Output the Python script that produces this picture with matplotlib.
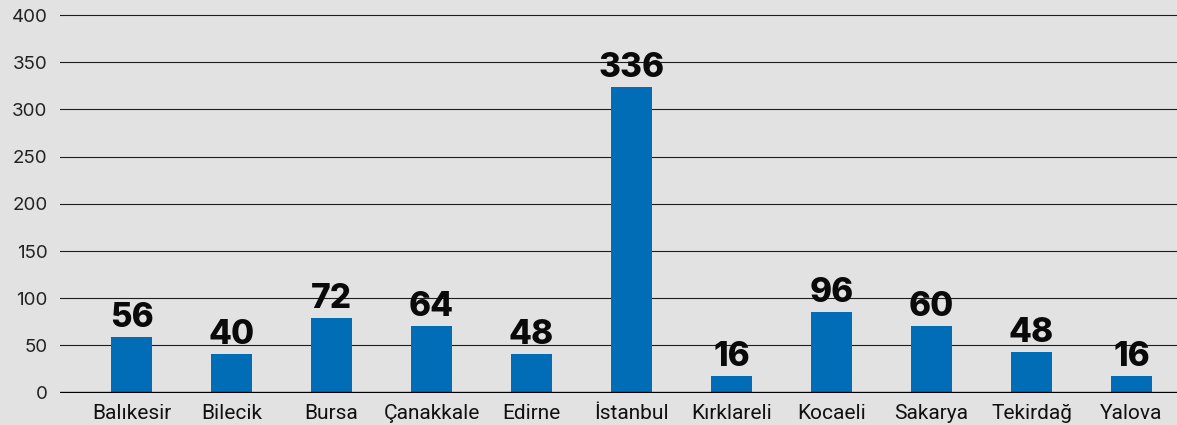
import matplotlib.pyplot as plt
import numpy as np

# data
provinces = ["Balıkesir", "Bilecik", "Bursa", "Çanakkale", "Edirne", "İstanbul",
             "Kırklareli", "Kocaeli", "Sakarya", "Tekirdağ", "Yalova"]
bar_heights = [59, 41, 79, 70.5, 41, 324, 17.5, 85.5, 70.5, 43, 17.5]
value_labels = ["56", "40", "72", "64", "48", "336", "16", "96", "60", "48", "16"]
yticks = [0, 50, 100, 150, 200, 250, 300, 350, 400]

bg = "#e2e2e2"
bar_color = "#006db6"

fig = plt.figure(figsize=(11.77, 4.25), dpi=100, facecolor=bg)
ax = fig.add_axes([0.051, 0.076, 0.949, 0.8998])
ax.set_facecolor(bg)

x = np.arange(len(provinces))
ax.bar(x, bar_heights, width=0.41, color=bar_color, zorder=3)

for xi, h, lab in zip(x, bar_heights, value_labels):
    ax.annotate(lab, (xi, h), xytext=(0, 10), textcoords="offset pixels",
                ha="center", va="baseline", fontsize=24, fontweight="heavy",
                family="Inter", color="#0a0a0a", zorder=4)

ax.set_xlim(-0.715, 10.455)
ax.set_ylim(0, 405)
ax.set_yticks(yticks)
for yv in yticks[1:]:
    ax.axhline(yv, color="#1e1e1e", lw=0.8, zorder=1)
ax.axhline(0, color="#000000", lw=2.4, zorder=5)

for s in ax.spines.values():
    s.set_visible(False)

ax.set_xticks(x)
ax.set_xticklabels(provinces, family="Roboto", fontsize=15, color="#111111")
ax.tick_params(axis="x", length=0, pad=8)
ax.tick_params(axis="y", length=0, pad=9, labelsize=13.5, labelcolor="#222222")
for t in ax.get_yticklabels():
    t.set_family("Inter")

fig.savefig("out.png", dpi=100, facecolor=bg)
